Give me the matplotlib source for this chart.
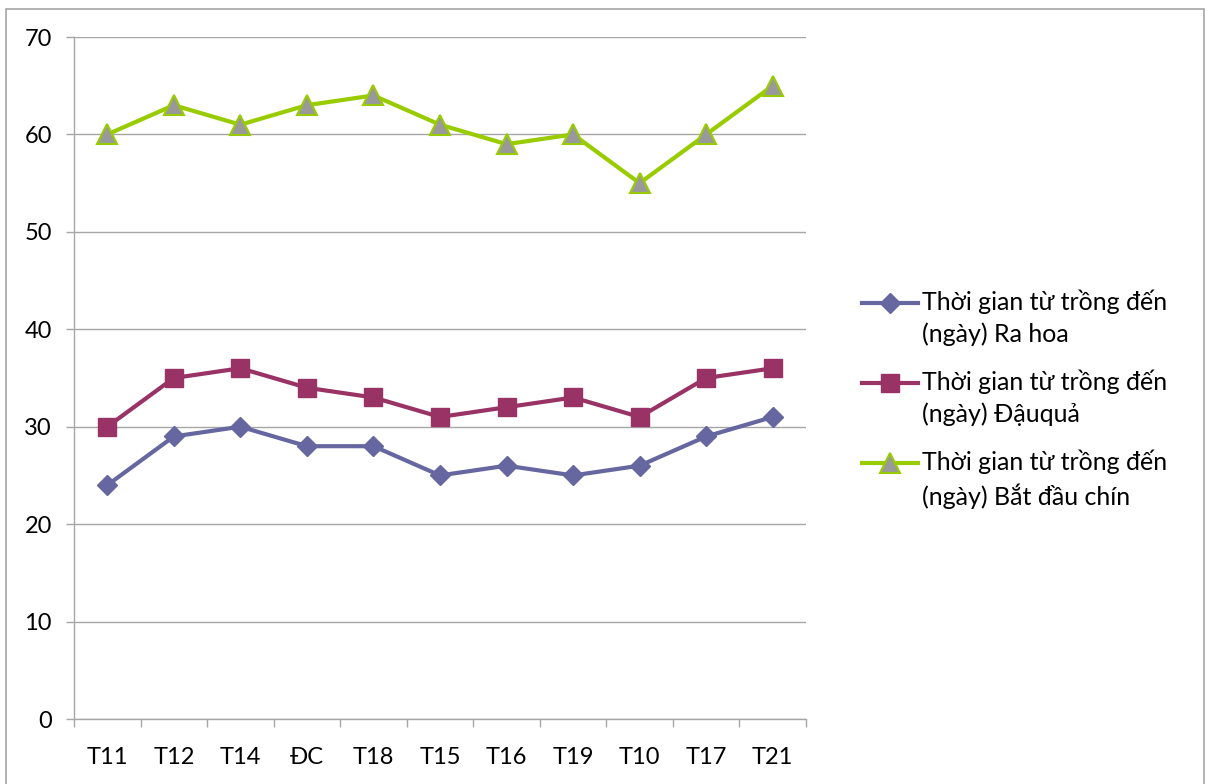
import matplotlib
matplotlib.use("Agg")
import matplotlib.pyplot as plt
from matplotlib.patches import Rectangle
from matplotlib.lines import Line2D
import numpy as np

plt.rcParams['font.family'] = ['Lato', 'Open Sans', 'DejaVu Sans']

categories = ["T11", "T12", "T14", "ĐC", "T18", "T15", "T16", "T19", "T10", "T17", "T21"]
ra_hoa = [24, 29, 30, 28, 28, 25, 26, 25, 26, 29, 31]
dau_qua = [30, 35, 36, 34, 33, 31, 32, 33, 31, 35, 36]
bat_dau_chin = [60, 63, 61, 63, 64, 61, 59, 60, 55, 60, 65]

labels = [
    "Thời gian từ trồng đến\n(ngày) Ra hoa",
    "Thời gian từ trồng đến\n(ngày) Đậuquả",
    "Thời gian từ trồng đến\n(ngày) Bắt đầu chín",
]
y_ticks = [0, 10, 20, 30, 40, 50, 60, 70]

W, H = 1208, 784
fig = plt.figure(figsize=(W / 100, H / 100), dpi=100)

# outer chart frame
fig.patches.append(Rectangle((6 / W, -0.05), (1204 - 6) / W, 1.05 - 9 / H,
                             transform=fig.transFigure, fill=False,
                             edgecolor="#a6a6a6", linewidth=1.2))

ax = fig.add_axes([74 / W, 1 - 719 / H, (806 - 74) / W, (719 - 37) / H])
x = np.arange(len(categories))

styles = [
    dict(color="#6666a0", marker="D", markersize=10,
         markerfacecolor="#6666a0", markeredgecolor="#6666a0"),
    dict(color="#993366", marker="s", markersize=13,
         markerfacecolor="#993366", markeredgecolor="#993366"),
    dict(color="#99cc00", marker="^", markersize=14,
         markerfacecolor="#999999", markeredgecolor="#99cc00", markeredgewidth=1.5),
]
series = [ra_hoa, dau_qua, bat_dau_chin]

for vals, st in zip(series, styles):
    ax.plot(x, vals, linewidth=3, **st)

ax.set_xlim(-0.5, len(categories) - 0.5)
ax.set_ylim(0, 70)
ax.set_yticks(y_ticks)
ax.set_yticklabels([str(v) for v in y_ticks])
ax.set_xticks(x)
ax.set_xticklabels(categories)
ax.set_xticks(np.arange(-0.5, len(categories)), minor=True)

ax.grid(axis="y", color="#a6a6a6", linewidth=1)
ax.set_axisbelow(True)
for s in ["top", "right"]:
    ax.spines[s].set_visible(False)
for s in ["left", "bottom"]:
    ax.spines[s].set_color("#a6a6a6")
    ax.spines[s].set_linewidth(1)

ax.tick_params(axis="y", length=6, width=1, color="#a6a6a6", pad=10, labelsize=17)
ax.tick_params(axis="x", which="major", length=0, pad=20, labelsize=17)
ax.tick_params(axis="x", which="minor", length=6, width=1, color="#a6a6a6")

# legend: handle aligned with the first line of each two-line label
entry_y = [303, 383, 463]
for yy, lab, st in zip(entry_y, labels, styles):
    fy = 1 - yy / H
    fig.add_artist(Line2D([862 / W, 918 / W], [fy, fy], transform=fig.transFigure,
                          linewidth=3, color=st["color"]))
    mk = {k: v for k, v in st.items() if k != "color"}
    fig.add_artist(Line2D([890 / W], [fy], transform=fig.transFigure,
                          linestyle="none", **mk))
    fig.text(922 / W, 1 - (yy - 14) / H, lab, fontsize=18, va="top", ha="left",
             linespacing=1.45)

fig.savefig("out.png", dpi=100, facecolor="white")
